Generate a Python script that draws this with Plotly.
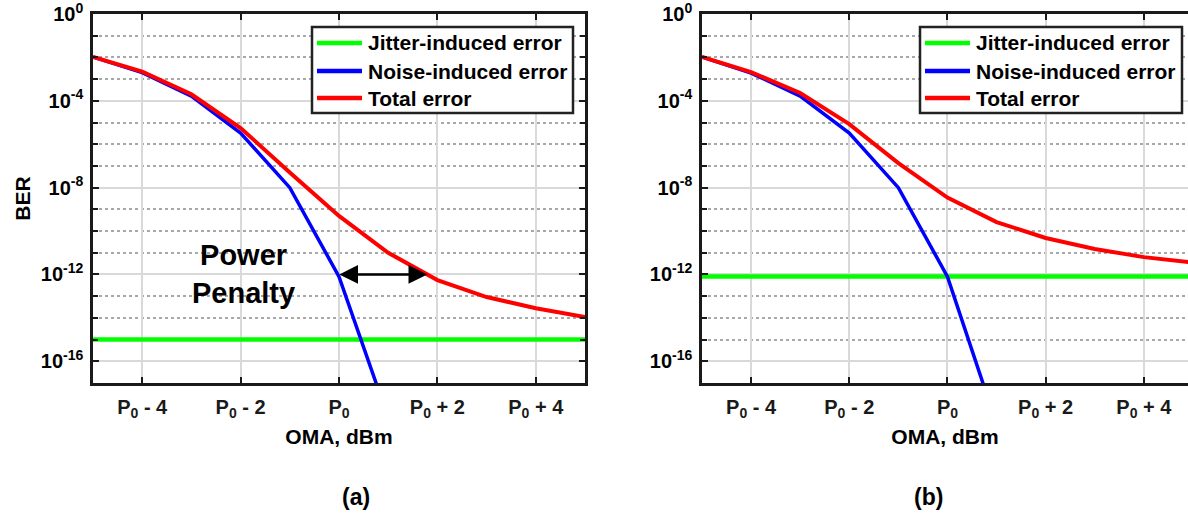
import numpy as np
import plotly.graph_objects as go

# OMA offset from P0 (dB)
oma_offset = [-5, -4, -3, -2, -1, 0, 1, 2, 3, 4, 5]
noise_offset = [-5, -4, -3, -2, -1, 0, 1]

# Panel (a)
jitter_a = [1e-15] * len(oma_offset)
noise_a = [1.05e-2, 2.0e-3, 1.66e-4, 3.3e-6, 1.0e-8, 7.9e-13, 2.5e-19]
total_a = [1.05e-2, 2.2e-3, 2.0e-4, 5.6e-6, 5.0e-8, 5.0e-10, 1.0e-11,
           5.5e-13, 9.1e-14, 2.8e-14, 1.1e-14]

# Panel (b)
jitter_b = [8e-13] * len(oma_offset)
noise_b = [1.05e-2, 1.9e-3, 1.66e-4, 3.3e-6, 1.0e-8, 7.9e-13, 1.3e-19]
total_b = [1.05e-2, 2.1e-3, 2.3e-4, 8.5e-6, 1.35e-7, 3.5e-9, 2.6e-10,
           4.8e-11, 1.5e-11, 6.3e-12, 3.5e-12]

series_names = ["Jitter-induced error", "Noise-induced error", "Total error"]

x_tickvals = [-4, -2, 0, 2, 4]
x_ticktext = ["P<sub>0</sub> - 4", "P<sub>0</sub> - 2", "P<sub>0</sub>",
              "P<sub>0</sub> + 2", "P<sub>0</sub> + 4"]
y_tickvals = [1e0, 1e-4, 1e-8, 1e-12, 1e-16]
y_ticktext = ["10<sup>0</sup>", "10<sup>-4</sup>", "10<sup>-8</sup>",
              "10<sup>-12</sup>", "10<sup>-16</sup>"]
target_ber = 1e-12

FONT = "Liberation Sans, Arial, sans-serif"
COLORS = ["#00ff00", "#0000ff", "#ff0000"]
WIDTHS = [4.5, 3.5, 4]
W, H = 1188, 518

fig = go.Figure()


def add_panel(xa, ya, jitter, noise, total):
    xs = [oma_offset, noise_offset, oma_offset]
    ys = [jitter, noise, total]
    for name, x, y, c, w in zip(series_names, xs, ys, COLORS, WIDTHS):
        fig.add_trace(go.Scatter(x=x, y=y, mode="lines", name=name, showlegend=False,
                                 line=dict(color=c, width=w), xaxis=xa, yaxis=ya))


add_panel("x", "y", jitter_a, noise_a, total_a)
add_panel("x2", "y2", jitter_b, noise_b, total_b)

y_dom = [1 - 383 / H, 1 - 14 / H]
AXIS_COLOR = "#1a1a1a"

xaxis_common = dict(
    range=[-5, 5], tickvals=x_tickvals, ticktext=x_ticktext,
    showgrid=True, gridcolor="#d9d9d9", gridwidth=2,
    showline=True, linecolor=AXIS_COLOR, linewidth=2.5, mirror="ticks",
    ticks="inside", ticklen=6, tickwidth=2, tickcolor=AXIS_COLOR,
    tickfont=dict(family=FONT, size=20, color="#1a1a1a", weight="bold"),
    ticklabelstandoff=4,
    title=dict(text="OMA, dBm", font=dict(family=FONT, size=21, color="#000", weight="bold"),
               standoff=10),
    zeroline=False, automargin=False,
)
yaxis_common = dict(
    type="log", range=[-17, 0], tickvals=y_tickvals, ticktext=y_ticktext,
    showgrid=True, gridcolor="#d9d9d9", gridwidth=2,
    showline=True, linecolor=AXIS_COLOR, linewidth=2.5, mirror="ticks",
    ticks="inside", ticklen=6, tickwidth=2, tickcolor=AXIS_COLOR,
    tickfont=dict(family=FONT, size=20, color="#000", weight="bold"),
    ticklabelstandoff=3, ticklabeloverflow="allow",
    minor=dict(dtick=1, ticks="inside", ticklen=5, tickwidth=2, tickcolor=AXIS_COLOR,
               showgrid=True, gridcolor="#a8a8a8", gridwidth=1.5, griddash="dot"),
    zeroline=False, automargin=False, domain=y_dom,
)

xa1 = dict(xaxis_common, domain=[93 / W, 585 / W], anchor="y")
xa2 = dict(xaxis_common, domain=[702 / W, 1.0], anchor="y2", range=[-5, 4.9])
ya1 = dict(yaxis_common, anchor="x",
           title=dict(text="BER", font=dict(family=FONT, size=21, color="#000", weight="bold"),
                      standoff=5))
ya2 = dict(yaxis_common, anchor="x2", mirror=False)

# Legend boxes drawn in page pixels
shapes = []
annotations = []


def add_legend(left, right, top, bottom, rows):
    shapes.append(dict(type="rect", xref="paper", yref="paper",
                       x0=left / W, x1=right / W, y0=1 - bottom / H, y1=1 - top / H,
                       fillcolor="white", line=dict(color="#222", width=2.5), layer="above"))
    for name, c, yrow in zip(series_names, COLORS, rows):
        shapes.append(dict(type="line", xref="paper", yref="paper",
                           x0=(left + 5) / W, x1=(left + 50) / W,
                           y0=1 - yrow / H, y1=1 - yrow / H,
                           line=dict(color=c, width=4.5), layer="above"))
        annotations.append(dict(x=(left + 54) / W, y=1 - yrow / H, xref="paper", yref="paper",
                                xanchor="left", yanchor="middle", text=name, showarrow=False,
                                font=dict(family=FONT, size=21, color="#000", weight="bold")))


add_legend(312, 573, 27, 113, [43, 71, 98])
add_legend(920, 1182, 27, 113, [43, 71, 98])

# Power penalty: distance between the noise-only and total curves at the target BER
log_t = np.log10(target_ber)
x_noise_cross = float(np.interp(-log_t, -np.log10(noise_a), noise_offset))
x_total_cross = float(np.interp(-log_t, -np.log10(total_a), oma_offset))

annotations += [
    dict(x=x_total_cross, y=log_t, ax=x_noise_cross, ay=log_t,
         xref="x", yref="y", axref="x", ayref="y", text="",
         showarrow=True, arrowside="end+start", arrowhead=2, arrowsize=1.5,
         arrowwidth=2.5, arrowcolor="#000", standoff=0, startstandoff=0),
    dict(x=-1.94, y=-12.0, xref="x", yref="y", text="Power<br>Penalty",
         showarrow=False, font=dict(family=FONT, size=29, color="#000", weight="bold")),
    dict(x=340 / W, y=1 - 512 / H, xref="paper", yref="paper", text="(a)",
         showarrow=False, font=dict(family=FONT, size=23, color="#000", weight="bold")),
    dict(x=945 / W, y=1 - 512 / H, xref="paper", yref="paper", text="(b)",
         showarrow=False, font=dict(family=FONT, size=23, color="#000", weight="bold")),
]

fig.update_layout(
    width=W, height=H,
    margin=dict(l=0, r=0, t=0, b=0),
    paper_bgcolor="white", plot_bgcolor="white",
    xaxis=xa1, yaxis=ya1, xaxis2=xa2, yaxis2=ya2,
    showlegend=False,
    shapes=shapes,
    annotations=annotations,
)

fig.write_html("out.html")
